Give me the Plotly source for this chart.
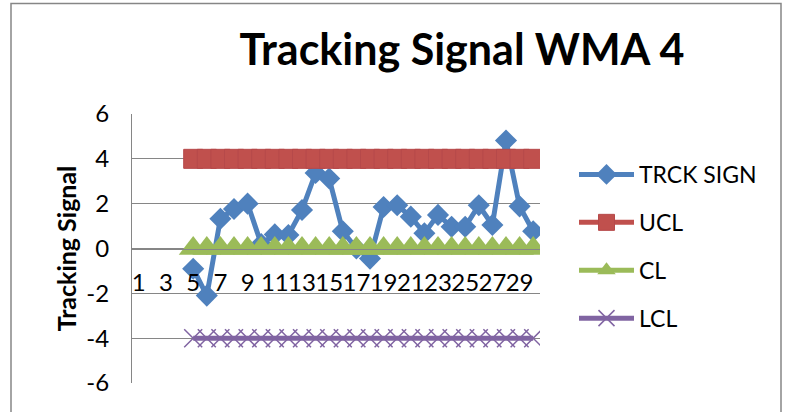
import plotly.graph_objects as go

# ---------------- data ----------------
categories = [1, 2, 3, 4, 5, 6, 7, 8, 9, 10, 11, 12, 13, 14, 15,
              16, 17, 18, 19, 20, 21, 22, 23, 24, 25, 26, 27, 28, 29, 30]
trck_sign = [None, None, None, None, -0.9, -2.1, 1.33, 1.76, 2.0, 0.2,
             0.63, 0.6, 1.72, 3.37, 3.12, 0.77, 0.0, -0.45, 1.85, 1.93,
             1.42, 0.68, 1.5, 0.97, 0.97, 1.93, 1.05, 4.82, 1.88, 0.77]
ucl = [None, None, None, None] + [4] * 26
cl = [None, None, None, None] + [0] * 26
lcl = [None, None, None, None] + [-4] * 26
x_tick_vals = [1, 3, 5, 7, 9, 11, 13, 15, 17, 19, 21, 23, 25, 27, 29]
x_tick_text = ["1", "3", "5", "7", "9", "11", "13", "15", "17", "19",
               "21", "23", "25", "27", "29"]
y_tick_vals = [-6, -4, -2, 0, 2, 4, 6]
y_tick_text = ["-6", "-4", "-2", "0", "2", "4", "6"]

FONT = "Lato"
GRID = "#868686"

fig = go.Figure()
fig.add_trace(go.Scatter(
    x=categories, y=trck_sign, name="TRCK SIGN", mode="lines+markers",
    legendgroup="a",
    line=dict(color="#4F81BD", width=5),
    marker=dict(symbol="diamond", size=17, color="#4F81BD"),
))
fig.add_trace(go.Scatter(
    x=categories, y=ucl, name="UCL", mode="lines+markers",
    legendgroup="b",
    line=dict(color="#C0504D", width=5),
    marker=dict(symbol="square", size=19, color="#C0504D",
                line=dict(color="#B6494A", width=1)),
))
fig.add_trace(go.Scatter(
    x=categories, y=cl, name="CL", mode="lines+markers",
    legendgroup="c",
    line=dict(color="#9BBB59", width=5),
    marker=dict(symbol="triangle-up", size=25, color="#9BBB59"),
))
fig.add_trace(go.Scatter(
    x=categories, y=lcl, name="LCL", mode="lines+markers",
    legendgroup="d",
    line=dict(color="#8064A2", width=5),
    marker=dict(symbol="x-thin", size=18, color="#8064A2",
                line=dict(color="#8064A2", width=1.5)),
))

L, R, T, B = 132, 245, 114, 29
W, H = 785, 412
pw = W - L - R
ph = H - T - B


def px_x(p):
    return (p - L) / pw


def px_y(p):
    return (H - B - p) / ph


fig.update_layout(
    width=W, height=H,
    margin=dict(l=L, r=R, t=T, b=B, pad=0),
    paper_bgcolor="white", plot_bgcolor="white",
    font=dict(family=FONT, color="black"),
    title=dict(text="Tracking Signal WMA 4",
               font=dict(family=FONT, size=43, weight="bold", color="black"),
               x=px_x(462), xref="paper", xanchor="center",
               y=1 - 50 / H, yref="container", yanchor="middle"),
    showlegend=True,
    legend=dict(x=px_x(574), xanchor="left", y=px_y(153), yanchor="top",
                font=dict(family=FONT, size=23, color="black"),
                itemwidth=55, traceorder="grouped", tracegroupgap=15,
                bgcolor="rgba(0,0,0,0)"),
    xaxis=dict(range=[0.5, 30.5], anchor="free", position=0.5,
               showgrid=False, zeroline=False,
               showline=True, linecolor=GRID, linewidth=1,
               tickmode="array", tickvals=x_tick_vals, ticktext=x_tick_text,
               tickangle=0, ticks="", ticklabelstandoff=13,
               tickfont=dict(family=FONT, size=24, color="black")),
    yaxis=dict(range=[-6, 6], tickmode="array", tickvals=y_tick_vals,
               ticktext=y_tick_text,
               showgrid=True, gridcolor=GRID, gridwidth=1,
               zeroline=False, showline=True, linecolor=GRID, linewidth=1,
               ticks="", ticklabelstandoff=17,
               tickfont=dict(family=FONT, size=24, color="black"),
               title=dict(text="Tracking Signal", standoff=2,
                          font=dict(family=FONT, size=25, weight="bold",
                                    color="black"))),
    shapes=[dict(type="rect", xref="paper", yref="paper",
                 x0=px_x(11), x1=px_x(781), y0=px_y(430), y1=px_y(3.5),
                 line=dict(color=GRID, width=1.5), fillcolor="rgba(0,0,0,0)",
                 layer="below")],
)

fig.write_html("out.html", config={"displayModeBar": False},
               post_script="document.body.style.margin='0';")
